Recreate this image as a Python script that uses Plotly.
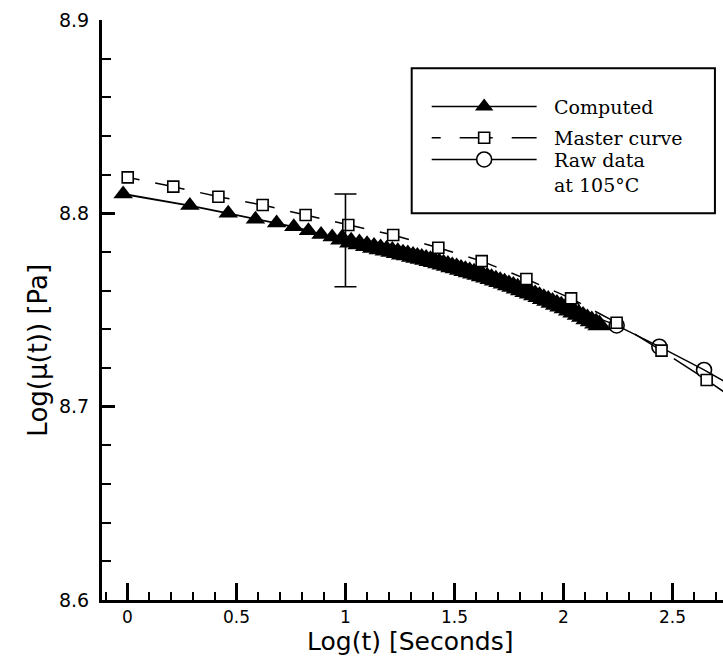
import plotly.graph_objects as go

# ---- Computed curve (log seconds, log modulus) ----
computed_logt = [
    -0.020, 0.286, 0.462, 0.587, 0.684, 0.763, 0.830, 0.888, 0.939, 0.985,
    1.026, 1.064, 1.099, 1.131, 1.161, 1.189, 1.215, 1.240, 1.264, 1.286,
    1.31, 1.33, 1.35, 1.37, 1.39, 1.41, 1.43, 1.45, 1.47, 1.49,
    1.51, 1.53, 1.55, 1.57, 1.59, 1.61, 1.63, 1.65, 1.67, 1.69,
    1.71, 1.73, 1.75, 1.77, 1.79, 1.81, 1.83, 1.85, 1.87, 1.89,
    1.91, 1.93, 1.95, 1.97, 1.99, 2.01, 2.03, 2.05, 2.07, 2.09,
    2.11, 2.13, 2.15, 2.165,
]
computed_val = [
    8.8100, 8.8040, 8.8000, 8.7970, 8.7950, 8.7930, 8.7910, 8.7890, 8.7878, 8.7866,
    8.7850, 8.7841, 8.7832, 8.7823, 8.7816, 8.7809, 8.7802, 8.7796, 8.7789, 8.7784,
    8.7777, 8.7772, 8.7766, 8.7761, 8.7755, 8.7749, 8.7743, 8.7736, 8.7730, 8.7723,
    8.7717, 8.7710, 8.7703, 8.7696, 8.7690, 8.7683, 8.7676, 8.7669, 8.7661, 8.7654,
    8.7646, 8.7638, 8.7629, 8.7621, 8.7612, 8.7604, 8.7595, 8.7586, 8.7577, 8.7568,
    8.7558, 8.7549, 8.7539, 8.7529, 8.7520, 8.7510, 8.7499, 8.7488, 8.7477, 8.7466,
    8.7454, 8.7443, 8.7431, 8.7422,
]

# ---- Master curve ----
master_logt = [0.001, 0.210, 0.417, 0.620, 0.817, 1.013, 1.219, 1.426, 1.625,
               1.830, 2.035, 2.244, 2.450, 2.657, 2.860]
master_val = [8.8186, 8.8138, 8.8086, 8.8043, 8.7991, 8.7940, 8.7888, 8.7822, 8.7753,
              8.7660, 8.7560, 8.7434, 8.7290, 8.7138, 8.6980]

# ---- Raw data at 105 C ----
raw_logt = [2.040, 2.244, 2.440, 2.645, 2.850]
raw_val = [8.7510, 8.7420, 8.7310, 8.7190, 8.7060]

# ---- Scatter band at log(t) = 1 ----
err_logt = [1.0]
err_val = [8.786]
err_half = [0.024]

# ---- Axes ----
x_range = [-0.117, 2.732]
y_range = [8.6, 8.9]
x_ticks = [0, 0.5, 1, 1.5, 2, 2.5]
x_ticklabels = ["0", "0.5", "1", "1.5", "2", "2.5"]
y_ticks = [8.6, 8.7, 8.8, 8.9]
y_ticklabels = ["8.6", "8.7", "8.8", "8.9"]

legend_labels = ["Computed", "Master curve", "Raw data<br>at 105°C"]

INK = "black"
SANS = "DejaVu Sans, Arial, sans-serif"
SERIF = "DejaVu Serif, Times New Roman, serif"

fig = go.Figure()

# raw data (bottom layer)
fig.add_trace(go.Scatter(
    x=raw_logt, y=raw_val, mode="lines+markers", name=legend_labels[2],
    line=dict(color=INK, width=1.4),
    marker=dict(symbol="circle-open", size=15, color=INK, line=dict(width=1.6)),
    showlegend=False,
))

# computed curve: isolated early points drawn a little smaller than the dense run
tri_sizes = [17 if lt < 0.95 else 21 for lt in computed_logt]
fig.add_trace(go.Scatter(
    x=computed_logt, y=computed_val, mode="lines+markers", name=legend_labels[0],
    line=dict(color=INK, width=1.8),
    marker=dict(symbol="triangle-up", size=tri_sizes, color=INK, opacity=1,
                line=dict(width=0)),
    showlegend=False,
))

# master curve
fig.add_trace(go.Scatter(
    x=master_logt, y=master_val, mode="lines+markers", name=legend_labels[1],
    line=dict(color=INK, width=1.5, dash="12px,16px,18px,0px"),
    marker=dict(symbol="square", size=11, color="white", line=dict(color=INK, width=1.6)),
    showlegend=False,
))

# error bar
fig.add_trace(go.Scatter(
    x=err_logt, y=err_val, mode="markers",
    marker=dict(size=1, color=INK),
    error_y=dict(type="data", array=err_half, visible=True, color=INK,
                 thickness=1.6, width=11),
    showlegend=False,
))

# ---- Legend box drawn on a helper axis pair ----
box_x = [0.4987, 0.987]
box_y = [0.667, 0.917]
fig.add_shape(type="rect", xref="paper", yref="paper",
              x0=box_x[0], x1=box_x[1], y0=box_y[0], y1=box_y[1],
              line=dict(color=INK, width=2), fillcolor="rgba(0,0,0,0)", layer="above")

row_y = [0.735, 0.52, 0.37]
seg = [0.066, 0.239, 0.412]

fig.add_trace(go.Scatter(
    x=seg, y=[row_y[0]] * 3, xaxis="x2", yaxis="y2", mode="lines",
    line=dict(color=INK, width=1.6), showlegend=False, hoverinfo="skip"))
fig.add_trace(go.Scatter(
    x=[seg[1]], y=[row_y[0]], xaxis="x2", yaxis="y2", mode="markers",
    marker=dict(symbol="triangle-up", size=16, color=INK), showlegend=False, hoverinfo="skip"))

fig.add_trace(go.Scatter(
    x=seg, y=[row_y[1]] * 3, xaxis="x2", yaxis="y2", mode="lines",
    line=dict(color=INK, width=1.5, dash="9px,19px,24px,0px"), showlegend=False, hoverinfo="skip"))
fig.add_trace(go.Scatter(
    x=[seg[1]], y=[row_y[1]], xaxis="x2", yaxis="y2", mode="markers",
    marker=dict(symbol="square", size=11, color="white", line=dict(color=INK, width=1.6)),
    showlegend=False, hoverinfo="skip"))

fig.add_trace(go.Scatter(
    x=seg, y=[row_y[2]] * 3, xaxis="x2", yaxis="y2", mode="lines",
    line=dict(color=INK, width=1.4), showlegend=False, hoverinfo="skip"))
fig.add_trace(go.Scatter(
    x=[seg[1]], y=[row_y[2]], xaxis="x2", yaxis="y2", mode="markers",
    marker=dict(symbol="circle", size=15, color="white", line=dict(color=INK, width=1.6)),
    showlegend=False, hoverinfo="skip"))

text_x = 0.462
legend_font = dict(family=SERIF, size=19, color=INK)
fig.add_annotation(x=text_x, y=row_y[0], xref="x2", yref="y2", text=legend_labels[0],
                   showarrow=False, xanchor="left", yanchor="middle", font=legend_font)
fig.add_annotation(x=text_x, y=row_y[1], xref="x2", yref="y2", text=legend_labels[1],
                   showarrow=False, xanchor="left", yanchor="middle", font=legend_font)
fig.add_annotation(x=text_x, y=row_y[2], xref="x2", yref="y2", text=legend_labels[2],
                   showarrow=False, xanchor="left", yanchor="top", align="left",
                   yshift=12, font=legend_font)

# ---- Axis titles ----
fig.add_annotation(x=0.496, y=-0.072, xref="paper", yref="paper",
                   text="Log(t) [Seconds]", showarrow=False,
                   xanchor="center", yanchor="middle",
                   font=dict(family=SANS, size=25, color=INK))
fig.add_annotation(x=-0.103, y=0.43, xref="paper", yref="paper",
                   text="Log(μ(t)) [Pa]", showarrow=False, textangle=-90,
                   xanchor="center", yanchor="middle",
                   font=dict(family=SANS, size=26, color=INK))

fig.update_layout(
    width=723, height=656,
    margin=dict(l=102, r=0, t=20, b=56),
    paper_bgcolor="white", plot_bgcolor="white",
    showlegend=False,
    xaxis=dict(
        range=x_range, tickmode="array", tickvals=x_ticks, ticktext=x_ticklabels,
        ticks="inside", ticklen=17, tickwidth=2.5, tickcolor=INK,
        minor=dict(dtick=0.1, tick0=0, ticks="inside", ticklen=8, tickwidth=1.6, tickcolor=INK),
        showline=True, linecolor=INK, linewidth=3, showgrid=False, zeroline=False,
        tickfont=dict(family=SANS, size=17, color=INK), ticklabelstandoff=0,
    ),
    yaxis=dict(
        range=y_range, tickmode="array", tickvals=y_ticks, ticktext=y_ticklabels,
        ticks="inside", ticklen=13, tickwidth=2.5, tickcolor=INK,
        minor=dict(dtick=0.02, tick0=8.6, ticks="inside", ticklen=9, tickwidth=1.6, tickcolor=INK),
        showline=True, linecolor=INK, linewidth=3, showgrid=False, zeroline=False,
        tickfont=dict(family=SANS, size=19, color=INK), ticklabelstandoff=6,
    ),
    xaxis2=dict(domain=box_x, range=[0, 1], visible=False, anchor="y2", fixedrange=True),
    yaxis2=dict(domain=box_y, range=[0, 1], visible=False, anchor="x2", fixedrange=True),
)

fig.write_html("out.html")
